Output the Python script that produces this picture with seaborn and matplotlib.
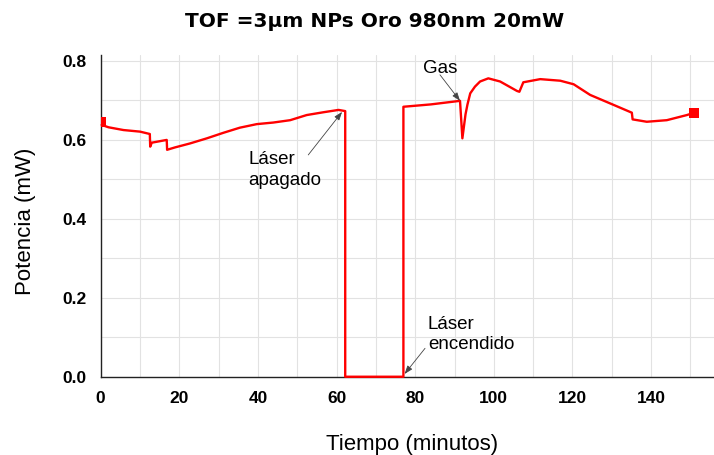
import matplotlib
matplotlib.use("Agg")
import matplotlib.pyplot as plt
import seaborn as sns
import pandas as pd
from matplotlib.ticker import MultipleLocator

# ---- data ----
tiempo = [0.25, 2, 5.8, 10, 12.5, 12.6, 13.0, 16.8, 16.9, 18.9, 22.7, 27, 31.2,
          35.4, 39.7, 43.9, 48.2, 52.4, 56.6, 60.5, 62.2, 62.2, 77.0, 77.0, 84,
          91.4, 92.0, 92.8, 93.3, 94.0, 95.2, 96.5, 98.6, 101.6, 105.9, 106.5,
          107.5, 111.8, 116.9, 120.3, 124.5, 130.4, 135.1, 135.3, 138.9, 144,
          149.1, 151]
potencia = [0.638, 0.632, 0.625, 0.621, 0.615, 0.583, 0.593, 0.600, 0.575, 0.581,
            0.591, 0.604, 0.618, 0.631, 0.640, 0.644, 0.650, 0.663, 0.670, 0.676,
            0.673, 0.0, 0.0, 0.684, 0.690, 0.699, 0.604, 0.665, 0.690, 0.718,
            0.735, 0.748, 0.756, 0.748, 0.724, 0.722, 0.746, 0.754, 0.750, 0.741,
            0.714, 0.689, 0.669, 0.652, 0.646, 0.650, 0.663, 0.669]
marker_t = [0, 151]
marker_p = [0.646, 0.669]

titulo = "TOF =3\u03bcm NPs Oro 980nm 20mW"
xlabel = "Tiempo (minutos)"
ylabel = "Potencia (mW)"

df = pd.DataFrame({"t": tiempo, "p": potencia})
dm = pd.DataFrame({"t": marker_t, "p": marker_p})

sns.set_style("white")
plt.rcParams["font.family"] = ["Liberation Sans", "DejaVu Sans"]
plt.rcParams["text.color"] = "black"
plt.rcParams["axes.labelcolor"] = "black"
plt.rcParams["xtick.color"] = "black"
plt.rcParams["ytick.color"] = "black"

fig = plt.figure(figsize=(7.14, 4.55), dpi=100)
ax = fig.add_axes([0.141, 0.172, 0.859, 0.707])

sns.lineplot(data=df, x="t", y="p", sort=False, estimator=None, color="#ff0000",
             linewidth=1.7, ax=ax, clip_on=False, zorder=4)
sns.scatterplot(data=dm, x="t", y="p", marker="s", s=55, color="#ff0000",
                edgecolor="none", ax=ax, zorder=5)

ax.set_xlim(0, 156)
ax.set_ylim(0, 0.815)
ax.xaxis.set_major_locator(MultipleLocator(20))
ax.xaxis.set_minor_locator(MultipleLocator(10))
ax.yaxis.set_major_locator(MultipleLocator(0.2))
ax.yaxis.set_minor_locator(MultipleLocator(0.1))
ax.yaxis.set_major_formatter(matplotlib.ticker.FormatStrFormatter("%.1f"))

ax.grid(True, which="both", color="#e2e2e2", linewidth=0.8)
ax.set_axisbelow(True)
for s in ["top", "right"]:
    ax.spines[s].set_visible(False)
for s in ["left", "bottom"]:
    ax.spines[s].set_color("#222222")
    ax.spines[s].set_linewidth(1.0)

ax.tick_params(which="major", direction="out", length=6, width=1.0, color="#222222",
               labelsize=12.5, pad=4, labelcolor="black")
ax.tick_params(which="minor", direction="out", length=3.5, width=1.0, color="#222222")
for lab in ax.get_xticklabels() + ax.get_yticklabels():
    lab.set_fontweight("bold")

ax.set_xlabel(xlabel, fontsize=16)
ax.set_ylabel(ylabel, fontsize=16)
ax.xaxis.set_label_coords(0.508, -0.178)
ax.yaxis.set_label_coords(-0.1055, 0.482)
fig.text(0.525, 0.953, titulo, ha="center", va="center", fontsize=14.5,
         fontweight="bold", family=["DejaVu Sans"], color="black")

ann_fs = 13.5
ax.text(37.5, 0.572, "Láser\napagado", ha="left", va="top", fontsize=ann_fs,
        linespacing=1.3)
ax.text(82.0, 0.803, "Gas", ha="left", va="top", fontsize=ann_fs)
ax.text(83.2, 0.155, "Láser\nencendido", ha="left", va="top", fontsize=ann_fs,
        linespacing=1.3)

arrow_kw = dict(arrowstyle="-|>,head_length=0.5,head_width=0.18", color="#444444",
                lw=0.6, shrinkA=0, shrinkB=0)
ax.annotate("", xy=(61.4, 0.671), xytext=(52.8, 0.562), arrowprops=arrow_kw, zorder=6)
ax.annotate("", xy=(91.4, 0.699), xytext=(86.3, 0.765), arrowprops=arrow_kw, zorder=6)
ax.annotate("", xy=(77.3, 0.007), xytext=(82.5, 0.072), arrowprops=arrow_kw, zorder=6,
            annotation_clip=False)

fig.savefig("out.png", dpi=100)
